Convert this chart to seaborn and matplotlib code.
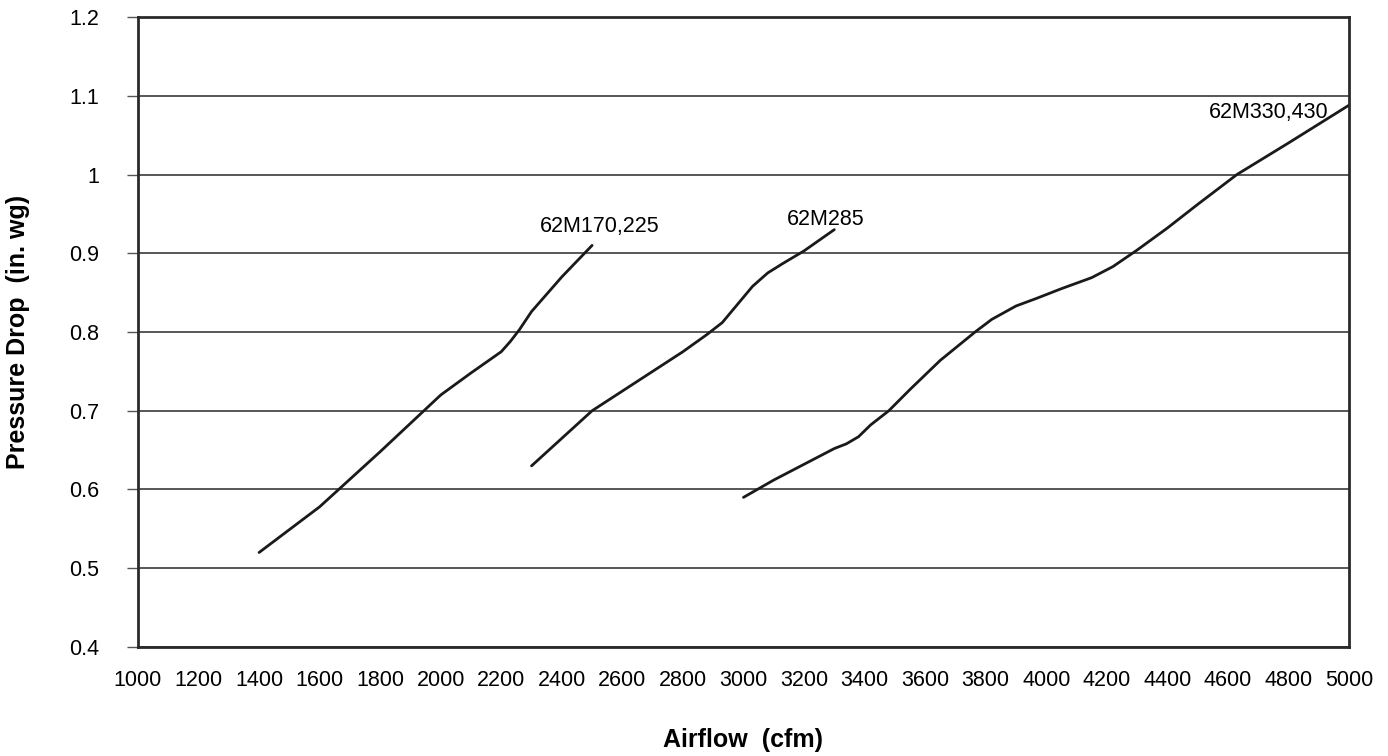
import pandas as pd
import matplotlib
matplotlib.use('Agg')
import matplotlib.pyplot as plt
import seaborn as sns
from matplotlib.ticker import MultipleLocator

# curves
x_170 = [1400, 1600, 1800, 2000, 2100, 2200, 2230, 2260, 2300, 2400, 2500]
y_170 = [0.52, 0.578, 0.648, 0.72, 0.748, 0.775, 0.788, 0.803, 0.826, 0.87, 0.91]

x_285 = [2300, 2400, 2500, 2600, 2700, 2800, 2880, 2930, 2980, 3030,
         3080, 3130, 3200, 3300]
y_285 = [0.63, 0.665, 0.70, 0.725, 0.75, 0.775, 0.797, 0.812, 0.835, 0.858,
         0.875, 0.887, 0.903, 0.93]

x_330 = [3000, 3100, 3200, 3300, 3340, 3380, 3420, 3480, 3550, 3650,
         3765, 3820, 3900, 3970, 4050, 4150, 4220, 4300, 4400, 4500,
         4630, 4800, 5000]
y_330 = [0.59, 0.612, 0.632, 0.652, 0.658, 0.667, 0.682, 0.70, 0.727, 0.764,
         0.80, 0.816, 0.833, 0.843, 0.855, 0.869, 0.883, 0.904, 0.932, 0.962,
         1.0, 1.04, 1.088]

names = ['62M170,225', '62M285', '62M330,430']
label_x = [2328, 3144, 4538]
label_y = [0.927, 0.936, 1.072]

df = pd.concat([
    pd.DataFrame({'airflow': x_170, 'dp': y_170, 'model': names[0]}),
    pd.DataFrame({'airflow': x_285, 'dp': y_285, 'model': names[1]}),
    pd.DataFrame({'airflow': x_330, 'dp': y_330, 'model': names[2]}),
])

sns.set_style('white')
plt.rcParams['font.family'] = ['Liberation Sans', 'DejaVu Sans']
plt.rcParams['text.color'] = 'black'
plt.rcParams['xtick.labelcolor'] = 'black'
plt.rcParams['ytick.labelcolor'] = 'black'
plt.rcParams['axes.labelcolor'] = 'black'

fig = plt.figure(figsize=(13.88, 7.56), dpi=100)
ax = fig.add_axes([0.0994, 0.1442, 0.8725, 0.8333])

sns.lineplot(data=df, x='airflow', y='dp', hue='model', estimator=None,
             palette=['#1a1a1a'] * 3, linewidth=2.0, legend=False, ax=ax)

for n, lx, ly in zip(names, label_x, label_y):
    ax.text(lx, ly, n, fontsize=15.5, ha='left', va='baseline', color='black')

ax.set_xlim(1000, 5000)
ax.set_ylim(0.4, 1.2)
ax.xaxis.set_major_locator(MultipleLocator(200))
ax.xaxis.set_minor_locator(MultipleLocator(100))
ax.set_yticks([0.4, 0.5, 0.6, 0.7, 0.8, 0.9, 1.0, 1.1, 1.2])
ax.set_yticklabels(['0.4', '0.5', '0.6', '0.7', '0.8', '0.9', '1', '1.1', '1.2'])

ax.yaxis.grid(True, color='#2a2a2a', linewidth=1.1)
ax.xaxis.grid(False)
for s in ax.spines.values():
    s.set_color('#2a2a2a')
    s.set_linewidth(2.0)

ax.tick_params(axis='x', which='major', direction='inout', length=9, width=1,
               color='#555555', labelsize=15.5, pad=12)
ax.tick_params(axis='x', which='minor', direction='in', length=4.5, width=1,
               color='#555555')
ax.tick_params(axis='y', which='major', direction='out', length=8, width=1,
               color='#555555', labelsize=15.5, pad=20, left=True)

ax.set_xlabel('Airflow  (cfm)', fontsize=18, fontweight='bold', labelpad=27)
ax.set_ylabel('Pressure Drop  (in. wg)', fontsize=18, fontweight='bold', labelpad=28)

fig.savefig('out.png', dpi=100)
